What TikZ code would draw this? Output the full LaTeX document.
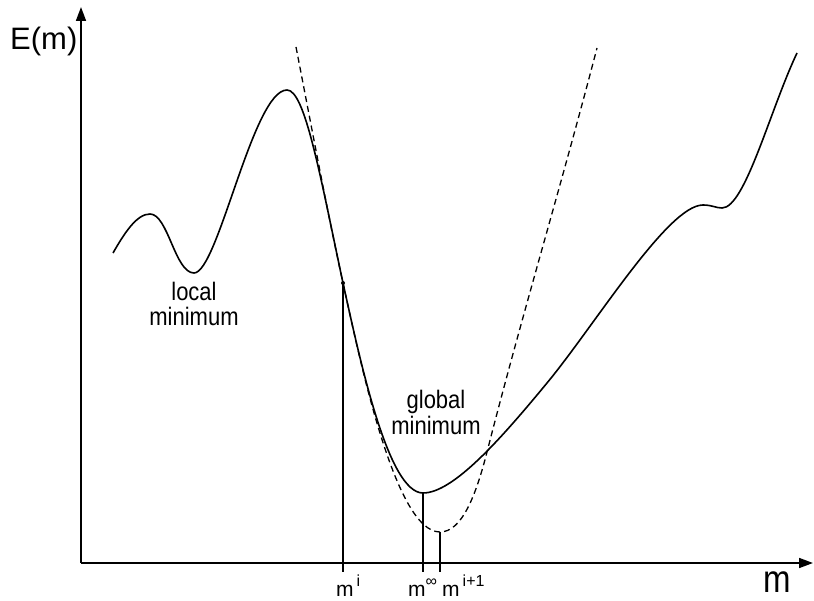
\documentclass[tikz,border=0pt]{standalone}
\usepackage{fontspec}
\setmainfont{Liberation Sans}
\usetikzlibrary{arrows.meta}
\newcommand\supsc[1]{\raisebox{10pt}{\fontsize{16}{16}\selectfont #1}}
\newcommand\tall[1]{\scalebox{1}[1.15]{#1}}
\begin{document}
\begin{tikzpicture}[x=1pt,y=-1pt,
  axis/.style={line width=1.6pt,-{Triangle[length=14pt,width=10pt]}},
  curve/.style={line width=1.6pt},
  quad/.style={line width=1.3pt,dash pattern=on 6pt off 4pt},
  tick/.style={line width=1.1pt},
  txt/.style={inner sep=0pt,anchor=base,font=\fontsize{22}{24}\selectfont},
  mlab/.style={inner sep=0pt,anchor=base west,font=\fontsize{21}{21}\selectfont},
]
\useasboundingbox (0,0) rectangle (814,601);
% axes
\coordinate (O) at (81,563);
\coordinate (Ytip) at (81,7);
\coordinate (Xtip) at (813,563);
\draw[axis] (O) -- (Ytip);
\draw[axis] (O) -- (Xtip);
\node[inner sep=0pt,anchor=base west,font=\fontsize{31}{31}\selectfont] (E) at (10,50) {E(m)};
\node[inner sep=0pt,anchor=base,font=\fontsize{33}{33}\selectfont] (mx) at (777,592) {\scalebox{1}[1.17]{m}};
% key points
\coordinate (pi) at (343,283);
\coordinate (pinf) at (423,493);
\coordinate (pq) at (440,532);
\coordinate (bi) at (343,572);
\coordinate (binf) at (423,572);
\coordinate (bq) at (440,572);
% function E(m)
\draw[curve] (113,253) .. controls (125,232) and (137,214) .. (150,214)
  .. controls (168,214) and (175,273) .. (194,273)
  .. controls (218,273) and (253,90) .. (287,90)
  .. controls (305,90) and (320,175) .. (pi)
  .. controls (360,360) and (388,493) .. (pinf)
  .. controls (453,493) and (500,440) .. (547,383)
  .. controls (595,325) and (668,205) .. (703,205)
  .. controls (712,205) and (716,208) .. (722,208)
  .. controls (745,208) and (770,110) .. (797,53);
% quadratic approximation
\draw[quad] (296,47) .. controls (315,145) and (328,215) .. (pi)
  .. controls (360,360) and (395,532) .. (pq)
  .. controls (462,532) and (476,495) .. (487,452)
  .. controls (522,315) and (560,190) .. (597,48);
\fill (pi) circle (2pt);
% verticals
\draw[tick] (pi) -- (bi);
\draw[tick] (pinf) -- (binf);
\draw[tick] (pq) -- (bq);
% labels
\node[mlab] (li) at (336,596) {m\hspace{3pt}\supsc{i}};
\node[mlab] (linf) at (408,596) {m\supsc{∞}};
\node[mlab] (lq) at (442,596) {m\hspace{3pt}\supsc{i+1}};
\node[txt] (loc) at (194,301) {\tall{local}};
\node[txt] (locb) at (194,326) {\tall{minimum}};
\node[txt] (glo) at (436,409) {\tall{global}};
\node[txt] (glob) at (436,435) {\tall{minimum}};
\end{tikzpicture}
\end{document}
